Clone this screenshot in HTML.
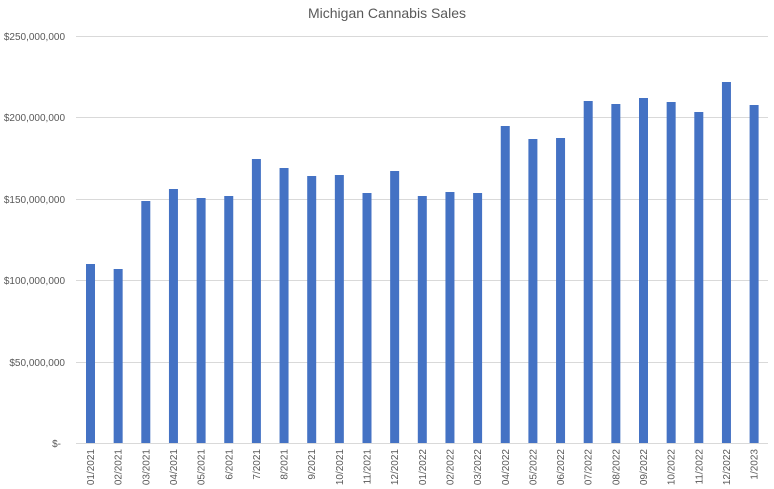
<!DOCTYPE html>
<html><head><style>
body{margin:0;background:#fff;}
svg{display:block;font-family:"Liberation Sans",sans-serif;}
</style></head><body>
<svg width="774" height="489" viewBox="0 0 774 489">
<rect width="774" height="489" fill="#fff"/>
<text x="387" y="18" text-anchor="middle" font-size="14" fill="#595959">Michigan Cannabis Sales</text>
<g stroke="#d9d9d9" stroke-width="1">
<line x1="76" x2="768" y1="36.5" y2="36.5"/>
<line x1="76" x2="768" y1="117.5" y2="117.5"/>
<line x1="76" x2="768" y1="199.5" y2="199.5"/>
<line x1="76" x2="768" y1="280.5" y2="280.5"/>
<line x1="76" x2="768" y1="362.5" y2="362.5"/>
<line x1="76" x2="768" y1="443.5" y2="443.5"/>
</g>
<g font-size="10" fill="#595959" text-anchor="end">
<text x="65" y="40">$250,000,000</text>
<text x="65" y="121">$200,000,000</text>
<text x="65" y="203">$150,000,000</text>
<text x="65" y="284">$100,000,000</text>
<text x="65" y="366">$50,000,000</text>
<text x="61" y="447">$-</text>
</g>
<g fill="#4472c4" id="bars"></g>
<g font-size="10" fill="#595959" id="labels"></g>
</svg>
<script>
var tops=[264,269,201,189,198,196,159,168,176,175,193,171,196,192,193,126,139,138,101,104,98,102,112,82,105];
var labs=["01/2021","02/2021","03/2021","04/2021","05/2021","6/2021","7/2021","8/2021","9/2021","10/2021","11/2021","12/2021","01/2022","02/2022","03/2022","04/2022","05/2022","06/2022","07/2022","08/2022","09/2022","10/2022","11/2022","12/2022","1/2023"];
var ns="http://www.w3.org/2000/svg",b=document.getElementById("bars"),l=document.getElementById("labels");
for(var i=0;i<25;i++){var x=86+i*27.65;
var r=document.createElementNS(ns,"rect");r.setAttribute("x",x);r.setAttribute("y",tops[i]);r.setAttribute("width",9);r.setAttribute("height",443-tops[i]);b.appendChild(r);
var t=document.createElementNS(ns,"text");var cx=x+4.5+3.5;t.setAttribute("x",cx);t.setAttribute("y",449);t.setAttribute("text-anchor","end");t.setAttribute("transform","rotate(-90 "+cx+" 449)");t.textContent=labs[i];l.appendChild(t);}
</script>
</body></html>
